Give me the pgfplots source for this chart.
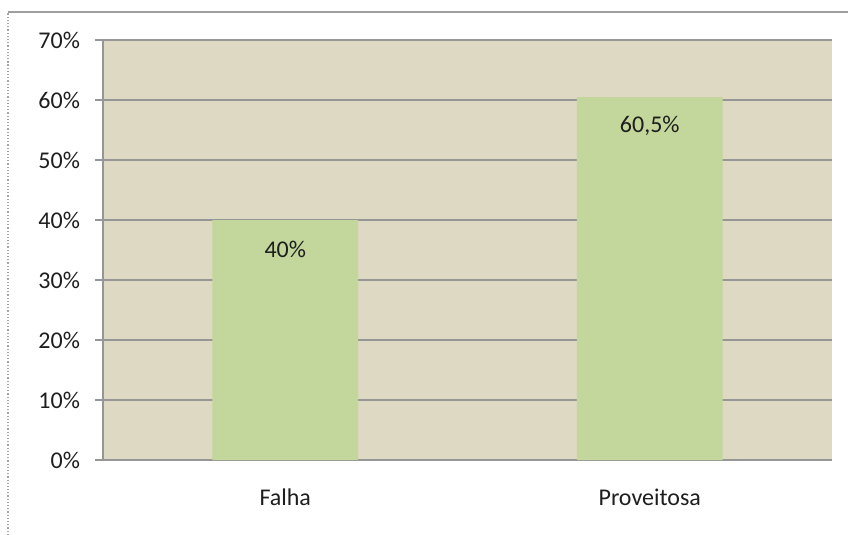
\documentclass[border=0pt]{standalone}
\usepackage{pgfplots}
\pgfplotsset{compat=1.18}
\usepackage{fontspec}
\setmainfont{Carlito}
\definecolor{plotbg}{HTML}{DDD9C3}
\definecolor{barfill}{HTML}{C3D69B}
\definecolor{gridc}{RGB}{150,150,150}
\definecolor{txt}{RGB}{30,30,30}
\begin{document}
\begin{tikzpicture}[x=1bp,y=1bp]
\useasboundingbox (0,0) rectangle (424,267.5);
\draw[gray!70, densely dotted, line width=0.6bp] (4,0) -- (4,261.5);
\draw[gray!75, line width=0.6bp] (4,261.5) -- (424,261.5);
\begin{axis}[
  at={(51.5bp,37.5bp)}, anchor=south west,
  width=364.5bp, height=210bp, scale only axis,
  xmin=-0.5, xmax=1.5, ymin=0, ymax=70,
  axis background/.style={fill=plotbg},
  axis x line*=bottom, axis y line*=left,
  axis line style={gridc, line width=0.6bp, -},
  ytick={0,10,20,30,40,50,60,70},
  yticklabels={0\%,10\%,20\%,30\%,40\%,50\%,60\%,70\%},
  ymajorgrids, grid style={gridc, line width=0.6bp},
  xtick={0,1}, xticklabels={Falha,Proveitosa},
  major x tick style={draw=none},
  extra x ticks={-0.5,0.5,1.5}, extra x tick labels={},
  extra x tick style={major tick length=4bp, tick align=outside, tick style={gridc, line width=0.6bp}, grid=none},
  ytick style={gridc, line width=0.6bp},
  major tick length=4bp, tick align=outside,
  tick label style={font=\fontsize{12bp}{14bp}\selectfont, text=txt},
  xticklabel style={yshift=-7bp},
  yticklabel style={xshift=-4bp},
  ybar, bar width=0.4,
  nodes near coords, point meta=explicit symbolic,
  every node near coord/.style={anchor=center, yshift=-14.5bp, font=\fontsize{12bp}{14bp}\selectfont, text=txt},
  clip=false,
]
\addplot[fill=barfill, draw=none] coordinates {(0,40) [40\%] (1,60.5) [60,5\%]};
\end{axis}
\end{tikzpicture}
\end{document}
